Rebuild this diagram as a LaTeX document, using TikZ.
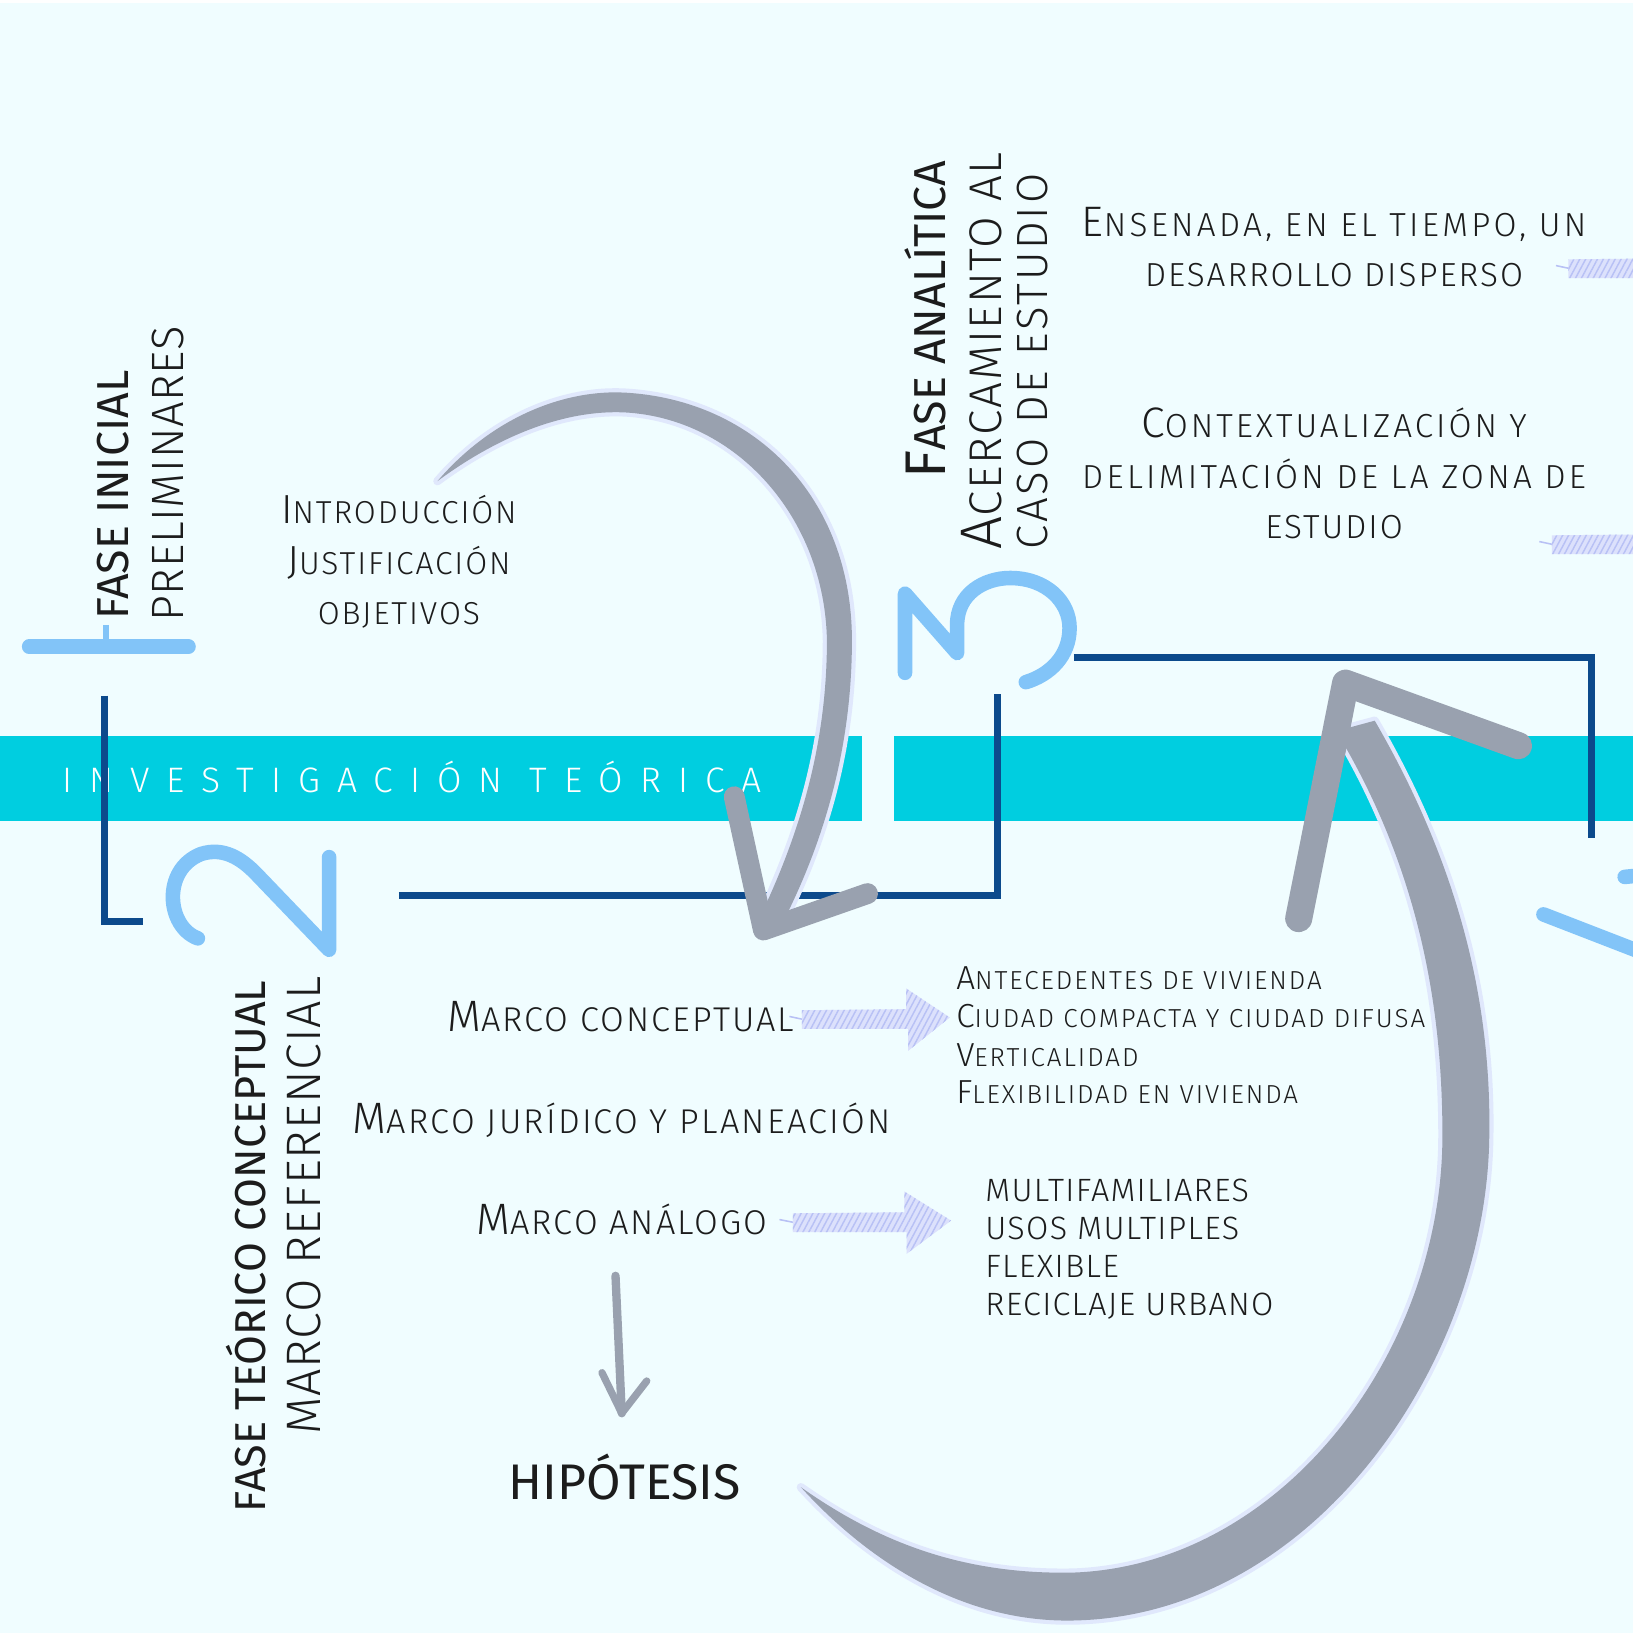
\documentclass[tikz,border=0pt]{standalone}
\usepackage{fontspec}
\setmainfont{Fira Sans}
\IfFontExistsTF{Fira Sans Light}
  {\newfontfamily\thinf{Fira Sans Light}}
  {\newfontfamily\thinf{Fira Sans}}
\usetikzlibrary{patterns.meta}

\definecolor{bgc}{RGB}{240,253,255}
\definecolor{band}{RGB}{0,206,224}
\definecolor{dblue}{RGB}{12,74,140}
\definecolor{lblue}{RGB}{130,196,248}
\definecolor{gry}{RGB}{153,161,175}
\definecolor{haloc}{RGB}{224,232,252}
\definecolor{ink}{RGB}{28,28,28}
\definecolor{lavA}{RGB}{220,225,252}
\definecolor{lavB}{RGB}{184,193,245}

\newcommand\ini[1]{\scalebox{1.28}{#1}}
\newcommand\fs[1]{\fontsize{#1}{#1}\selectfont}

\tikzset{
  frame/.style={dblue, line width=7pt},
  digit/.style={lblue, line width=14pt, line cap=round, line join=round},
  swoosh/.style={fill=gry, preaction={draw=haloc, line width=8pt, line join=round}},
  barb/.style={gry, line width=20pt, line cap=round, line join=round},
  sketch/.style={fill=lavA, postaction={pattern={Lines[angle=62,distance=5pt,line width=1.4pt]}, pattern color=lavB}},
  lbl/.style 2 args={text=ink, inner sep=0pt, font={\thinf\fs{#1}\addfontfeatures{LetterSpace=#2}}},
  vlbl/.style 2 args={lbl={#1}{#2}, rotate=90, anchor=base west},
  ttl/.style={text=ink, inner sep=0pt, rotate=90, anchor=base west, font={\fs{#1}}},
  sketchar/.pic={
    \draw[lavB, line width=1.5pt] (-8,-3) -- (6,0);
    \fill[sketch] (4,-9) -- (104,-10) -- (104,-30) -- (146,-2) -- (106,30) -- (106,9) -- (4,9) -- cycle;
  }
}

\begin{document}
\begin{tikzpicture}[x=1pt, y=-1pt]
\useasboundingbox (0,0) rectangle (1568,1568);
\clip (0,0) rectangle (1568,1568);
\fill[bgc] (0,0) rectangle (1568,1568);
\fill[white] (0,0) rectangle (1568,3);

% bands
\fill[band] (0,707) rectangle (828,788);
\fill[band] (858,707) rectangle (1568,788);
\node[lbl={34}{48}, text=white, anchor=base west] (inv) at (60,761) {INVESTIGACIÓN TEÓRICA};

% frames
\draw[frame] (100,668) -- (100,885) -- (137,885);
\draw[frame] (383,860) -- (958,860) -- (958,666);
\draw[frame] (1031,631) -- (1528,631) -- (1528,805);

% big digits
\draw[digit] (28,621) -- (181,621);
\draw[lblue, line width=6pt] (102,600) -- (102,621);
\draw[digit] (190,901) .. controls (160,890) and (155,835) .. (193,820)
  .. controls (215,813) and (232,825) .. (245,838) -- (316,912) -- (316,823);
\draw[digit] (869,646) -- (869,570) -- (919,627) -- (919,600)
  .. controls (919,570) and (945,555) .. (970,555)
  .. controls (1005,555) and (1027,578) .. (1027,603)
  .. controls (1027,630) and (1008,648) .. (985,655);
\draw[digit] (1482,878) -- (1575,914);
\draw[digit] (1560,842) -- (1580,840);

% sketch arrows
\pic at (766,979) {sketchar};
\pic[xscale=1.07] at (757,1174) {sketchar};
\pic at (1502,258) {sketchar};
\pic at (1486,523) {sketchar};

% fase inicial
\node[ttl=43] (fini) at (123,595) {FASE INICIAL};
\node[vlbl={43.5}{1.5}] (prel) at (176,597) {PRELIMINARES};
\node[lbl={30.5}{6}, anchor=base] (intro) at (383,503) {\ini{I}NTRODUCCIÓN};
\node[lbl={30.5}{6}, anchor=base] (just) at (383,552) {\ini{J}USTIFICACIÓN};
\node[lbl={30.5}{6}, anchor=base] (obj) at (383,600) {OBJETIVOS};

% fase analitica
\node[ttl=43] (fana) at (908,460) {\ini{F}ASE ANALÍTICA};
\node[vlbl={44}{4}] (acer) at (962,528) {\ini{A}CERCAMIENTO AL};
\node[vlbl={42}{6.5}] (caso) at (1006,528) {CASO DE ESTUDIO};
\node[lbl={32}{10}, anchor=base] (ens1) at (1281,227) {\ini{E}NSENADA, EN EL TIEMPO, UN};
\node[lbl={32}{6}, anchor=base] (ens2) at (1281,275) {DESARROLLO DISPERSO};
\node[lbl={32}{9}, anchor=base] (ctx1) at (1281,420) {\ini{C}ONTEXTUALIZACIÓN Y};
\node[lbl={32}{10}, anchor=base] (ctx2) at (1281,469) {DELIMITACIÓN DE LA ZONA DE};
\node[lbl={32}{6}, anchor=base] (ctx3) at (1281,517) {ESTUDIO};

% fase teorico conceptual
\node[ttl=41.5] (ftc) at (255,1452) {FASE TEÓRICO CONCEPTUAL};
\node[vlbl={46.5}{2}] (mref) at (308,1378) {MARCO REFERENCIAL};
\node[lbl={33}{6}, anchor=base] (mconc) at (596,990) {\ini{M}ARCO CONCEPTUAL};
\node[lbl={33}{6.5}, anchor=base] (mjur) at (597,1088) {\ini{M}ARCO JURÍDICO Y PLANEACIÓN};
\node[lbl={33}{6}, anchor=base] (manal) at (597,1185) {\ini{M}ARCO ANÁLOGO};
\node[lbl={25}{7.5}, anchor=base west] (ant) at (918,950) {\ini{A}NTECEDENTES DE VIVIENDA};
\node[lbl={25}{7.5}, anchor=base west] (ciu) at (918,987) {\ini{C}IUDAD COMPACTA Y CIUDAD DIFUSA};
\node[lbl={25}{7.5}, anchor=base west] (vert) at (918,1024) {\ini{V}ERTICALIDAD};
\node[lbl={25}{7.5}, anchor=base west] (flex) at (918,1060) {\ini{F}LEXIBILIDAD EN VIVIENDA};
\node[lbl={31}{4}, anchor=base west] (mfam) at (946,1154) {MULTIFAMILIARES};
\node[lbl={31}{4}, anchor=base west] (usos) at (946,1190) {USOS MULTIPLES};
\node[lbl={31}{4}, anchor=base west] (flexb) at (946,1227) {FLEXIBLE};
\node[lbl={31}{4}, anchor=base west] (recic) at (946,1263) {RECICLAJE URBANO};
\node[text=ink, inner sep=0pt, anchor=base, font=\fs{48}] (hip) at (600,1440) {HIPÓTESIS};

% grey swooshes
\fill[swoosh] (420,462) .. controls (475,398) and (545,374) .. (600,377)
  .. controls (725,384) and (818,478) .. (818,615)
  .. controls (818,720) and (790,810) .. (752,885) -- (730,880)
  .. controls (768,800) and (794,715) .. (794,615)
  .. controls (792,498) and (708,402) .. (600,396)
  .. controls (535,393) and (470,425) .. (420,462) -- cycle;
\draw[barb] (705,765) -- (733,893) -- (833,858);
\fill[swoosh] (1320,692) .. controls (1400,830) and (1432,960) .. (1430,1090)
  .. controls (1428,1310) and (1260,1552) .. (1030,1556)
  .. controls (920,1558) and (830,1495) .. (769,1428)
  .. controls (840,1478) and (920,1512) .. (1030,1510)
  .. controls (1230,1503) and (1385,1300) .. (1385,1090)
  .. controls (1385,960) and (1360,830) .. (1283,702) -- cycle;
\draw[barb, line width=26pt] (1247,882) -- (1292,656) -- (1458,716);
\coordinate (c1) at (591,1225);
\coordinate (c2) at (597,1357);
\draw[gry, line width=8pt, line cap=round] (c1) -- (c2);
\draw[gry, line width=7pt, line cap=round, line join=round] (578,1318) -- (c2) -- (621,1326);
\end{tikzpicture}
\end{document}
